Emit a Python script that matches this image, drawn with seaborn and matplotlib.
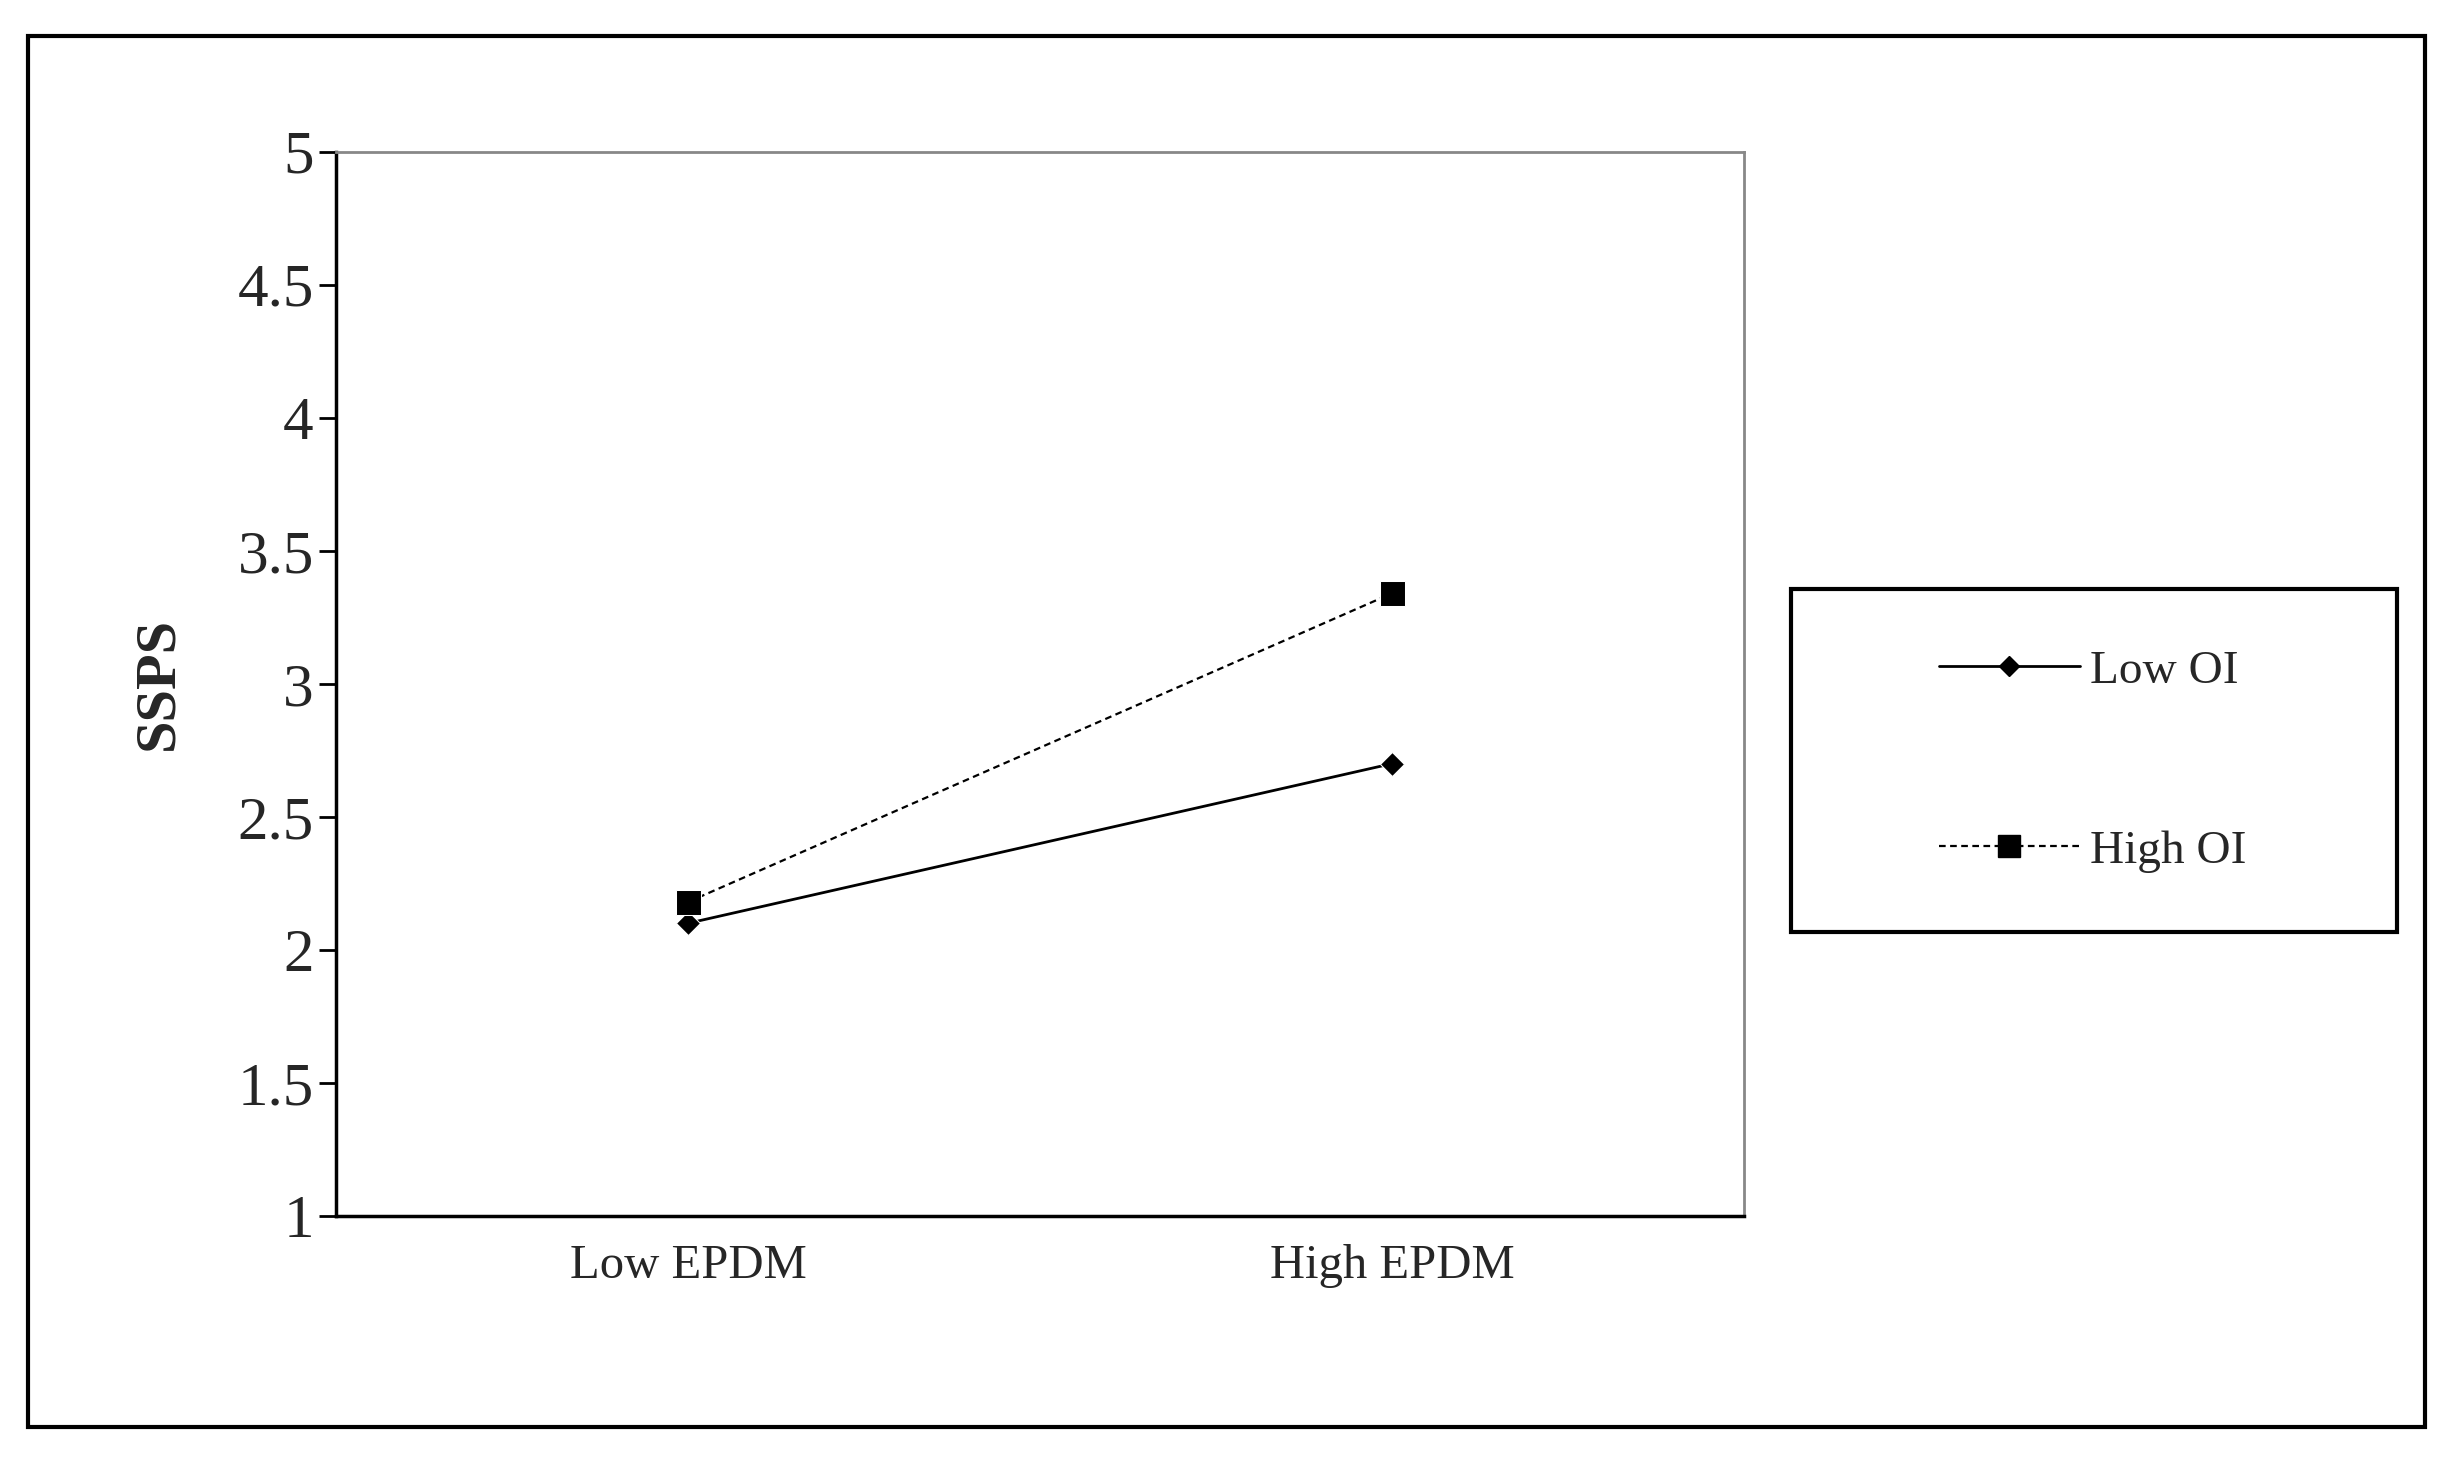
import matplotlib
matplotlib.use("Agg")
import matplotlib.pyplot as plt
import seaborn as sns
import pandas as pd
from matplotlib.patches import Rectangle
from matplotlib.lines import Line2D

categories = ["Low EPDM", "High EPDM"]
low_oi = [2.10, 2.70]
high_oi = [2.18, 3.34]
series_names = ["Low OI", "High OI"]
yticks = [1, 1.5, 2, 2.5, 3, 3.5, 4, 4.5, 5]

sns.set_style("white")
plt.rcParams['font.family'] = ['Liberation Serif', 'DejaVu Serif']

fig = plt.figure(figsize=(24.53, 14.58), dpi=100)
ax = fig.add_axes([0.137, 0.166, 0.574, 0.730])

df = pd.DataFrame({
    "x": [0, 1, 0, 1],
    "y": low_oi + high_oi,
    "s": [series_names[0]] * 2 + [series_names[1]] * 2,
})
sns.lineplot(data=df[df.s == "Low OI"], x="x", y="y", ax=ax, color="black",
             marker="D", markersize=12, linewidth=2, legend=False)
sns.lineplot(data=df[df.s == "High OI"], x="x", y="y", ax=ax, color="black",
             marker="s", markersize=18, linewidth=1.6, linestyle=(0, (3, 2)), legend=False)

ax.set_xlim(-0.5, 1.5)
ax.set_ylim(1, 5)
ax.set_yticks(yticks)
ax.set_yticklabels([f"{t:g}" for t in yticks], fontsize=44)
ax.set_xticks([0, 1])
ax.set_xticklabels(categories, fontsize=35)
ax.set_xticks([-0.5, 0.5, 1.5], minor=True)
ax.tick_params(axis="x", which="major", length=0, pad=20)
ax.tick_params(axis="x", which="minor", length=12, width=2, direction="out", color="black")
ax.tick_params(axis="y", length=12, width=2, direction="out", color="black", left=True, pad=4)
ax.set_xlabel("")
ax.set_ylabel("SSPS", fontsize=42, fontweight="bold", labelpad=38)
for s in ["left", "bottom"]:
    ax.spines[s].set_color("black"); ax.spines[s].set_linewidth(2.5)
for s in ["top", "right"]:
    ax.spines[s].set_color("#888888"); ax.spines[s].set_linewidth(2)

fig.patches.append(Rectangle((0.0115, 0.0215), 0.977, 0.9535, transform=fig.transFigure,
                             fill=False, edgecolor="black", linewidth=3))
fig.patches.append(Rectangle((0.730, 0.361), 0.247, 0.235, transform=fig.transFigure,
                             fill=False, edgecolor="black", linewidth=3))
h1 = Line2D([], [], color="black", marker="D", markersize=10, linewidth=2)
h2 = Line2D([], [], color="black", marker="s", markersize=16, linewidth=1.6, linestyle=(0, (3, 2)))
fig.legend([h1, h2], series_names, loc="center", bbox_to_anchor=(0.853, 0.478),
           frameon=False, fontsize=34, labelspacing=2.9, handlelength=3.0, handletextpad=0.2)

fig.savefig("out.png", dpi=100, facecolor="white")
